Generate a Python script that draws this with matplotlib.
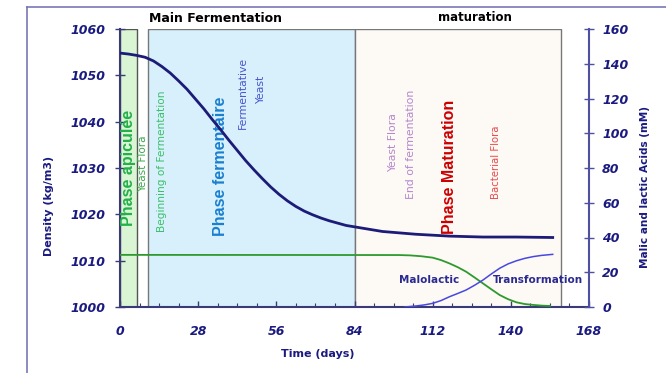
import matplotlib
matplotlib.use("Agg")
from matplotlib import pyplot as plt
from matplotlib.patches import Rectangle
from matplotlib.lines import Line2D

# density of the must (kg/m3)
density_days = [0, 3, 6, 9, 12, 15, 18, 21, 24, 27, 30, 33, 36, 39, 42, 45, 48, 51,
                54, 57, 60, 63, 66, 69, 72, 75, 78, 81, 84, 88, 94, 100, 106, 112,
                118, 124, 130, 142, 155]
density = [1054.8, 1054.6, 1054.3, 1053.9, 1053.1, 1051.9, 1050.5, 1048.8, 1047.0,
           1044.9, 1042.8, 1040.5, 1038.3, 1036.0, 1033.8, 1031.6, 1029.6, 1027.7,
           1025.9, 1024.3, 1022.9, 1021.7, 1020.7, 1019.9, 1019.2, 1018.6, 1018.1,
           1017.6, 1017.3, 1016.9, 1016.3, 1016.0, 1015.7, 1015.5,
           1015.3, 1015.2, 1015.1, 1015.1, 1015.0]

# malic acid (mM)
malic_days = [0, 100, 104, 108, 112, 115, 118, 121, 124, 127, 130, 133, 136, 139,
              142, 145, 148, 151, 154]
malic = [30, 29.9, 29.7, 29.2, 28.4, 27.0, 25.1, 22.9, 20.3, 17.0, 13.6, 10.2, 6.9,
         4.5, 2.7, 1.7, 1.2, 0.8, 0.6]

# lactic acid (mM)
lactic_days = [102, 106, 109, 112, 115, 118, 121, 124, 127, 130, 133, 136, 139, 142,
               145, 148, 151, 155]
lactic = [0, 0.6, 1.2, 2.1, 3.7, 5.9, 7.8, 9.8, 12.5, 15.5, 19.0, 22.3, 24.8, 26.6,
          28.0, 29.0, 29.7, 30.3]

# phases (start day, end day)
phase_apiculee = (0, 6)
phase_fermentaire = (10, 84)
phase_maturation = (84, 158)

x_ticks = [0, 28, 56, 84, 112, 140, 168]
density_ticks = [1000, 1010, 1020, 1030, 1040, 1050, 1060]
acid_ticks = [0, 20, 40, 60, 80, 100, 120, 140, 160]

navy = "#1a1a80"
spine_col = "#3a3a78"

fig = plt.figure(figsize=(6.66, 3.73), dpi=100)
ax = fig.add_axes([120/666, 1-307/373, 469/666, 278/373])

# background phases
ax.add_patch(Rectangle((phase_apiculee[0], 1000), phase_apiculee[1]-phase_apiculee[0], 60,
                       facecolor="#d9f5d3", edgecolor="#555555", lw=1, zorder=0))
ax.add_patch(Rectangle((phase_fermentaire[0], 1000), phase_fermentaire[1]-phase_fermentaire[0], 60,
                       facecolor="#d7f0fb", edgecolor="#777777", lw=1, zorder=0))
ax.add_patch(Rectangle((phase_maturation[0], 1000), phase_maturation[1]-phase_maturation[0], 60,
                       facecolor="#fdf9f5", edgecolor="#777777", lw=1, zorder=0))

ax.plot(density_days, density, color="#1c1c78", lw=2, zorder=5)

ax.set_xlim(0, 168)
ax.set_ylim(1000, 1060)
ax.set_xticks(x_ticks)
ax.set_xticks(range(0, 169, 7), minor=True)
ax.set_yticks(density_ticks)
for s in ["top", "right"]:
    ax.spines[s].set_visible(False)
for s in ["left", "bottom"]:
    ax.spines[s].set_color(spine_col)
    ax.spines[s].set_linewidth(1.5)
ax.tick_params(axis="y", direction="inout", length=7, width=1, color=spine_col, pad=7,
               labelsize=9, labelcolor=navy)
ax.tick_params(axis="x", which="major", direction="in", length=4, width=1, color=spine_col,
               pad=13, labelsize=9, labelcolor=navy)
ax.tick_params(axis="x", which="minor", direction="in", length=3, width=0.8, color=spine_col)
for lab in ax.get_xticklabels() + ax.get_yticklabels():
    lab.set_fontweight("bold")
    lab.set_fontstyle("italic")

# acids on the right axis
ax2 = ax.twinx()
ax2.plot(malic_days, malic, color="#2e9a2e", lw=1.3)
ax2.plot(lactic_days, lactic, color="#4848e0", lw=1.1)
ax2.set_ylim(0, 160)
ax2.set_yticks(acid_ticks)
for s in ["top", "left", "bottom"]:
    ax2.spines[s].set_visible(False)
ax2.spines["right"].set_color("#5050a0")
ax2.spines["right"].set_linewidth(1.5)
ax2.tick_params(axis="y", direction="inout", length=7, width=1, color="#5050a0", pad=6,
                labelsize=9, labelcolor=navy)
for lab in ax2.get_yticklabels():
    lab.set_fontweight("bold")
    lab.set_fontstyle("italic")

# phase labels
def vtext(x, y, s, color, size, bold=False, family="DejaVu Sans"):
    ax.text(x, y, s, rotation=90, ha="center", va="center", color=color, fontsize=size,
            fontweight="bold" if bold else "normal", family=family, zorder=4)

vtext(2.9, 1030.0, "Phase apiculée", "#22b04a", 11.5, True, "Liberation Sans")
vtext(8.2, 1030.9, "Yeast Flora", "#3aa84a", 7.5)
vtext(15.0, 1031.5, "Beginning of Fermentation", "#3cbf6a", 7.6)
vtext(36.0, 1030.3, "Phase fermentaire", "#1a7fd0", 11.5, True, "Liberation Sans")
vtext(44.0, 1046.3, "Fermentative", "#4a55d0", 7.8)
vtext(50.7, 1046.8, "Yeast", "#4a55d0", 7.8)
vtext(97.9, 1035.4, "Yeast Flora", "#b488cc", 7.8)
vtext(104.3, 1035.0, "End of fermentation", "#b488cc", 7.8)
vtext(117.9, 1030.3, "Phase Maturation", "#cc0000", 11.5, True, "Liberation Sans")
vtext(134.6, 1031.3, "Bacterial Flora", "#e84a4a", 7.3)

ax.text(110.7, 1005.8, "Malolactic", color="#2a2a90", fontsize=7.5, fontweight="bold",
        ha="center", va="center", zorder=6)
ax.text(149.6, 1005.8, "Transformation", color="#2a2a90", fontsize=7.5, fontweight="bold",
        ha="center", va="center", zorder=6, clip_on=False)

ax.text(34.3, 1062.2, "Main Fermentation", color="black", fontsize=9, fontweight="bold",
        ha="center", va="center", clip_on=False)
ax.text(127.1, 1062.4, "maturation", color="black", fontsize=8.5, fontweight="bold",
        ha="center", va="center", clip_on=False)

# axis titles
fig.text(318/666, 1-354/373, "Time (days)", color=navy, fontsize=8, fontweight="bold",
         ha="center", va="center")
fig.text(49/666, 1-206/373, "Density (kg/m3)", color=navy, fontsize=8, fontweight="bold",
         ha="center", va="center", rotation=90)
fig.text(645/666, 1-187/373, "Malic and lactic Acids (mM)", color=navy, fontsize=7.6,
         fontweight="bold", ha="center", va="center", rotation=90)

# outer frame (left and top edges)
fig.add_artist(Line2D([27/666, 27/666], [0, 1-7/373], color="#7878b8", lw=1.2))
fig.add_artist(Line2D([27/666, 1], [1-7/373, 1-7/373], color="#7878b8", lw=1.2))

fig.savefig("out.png", dpi=100)
